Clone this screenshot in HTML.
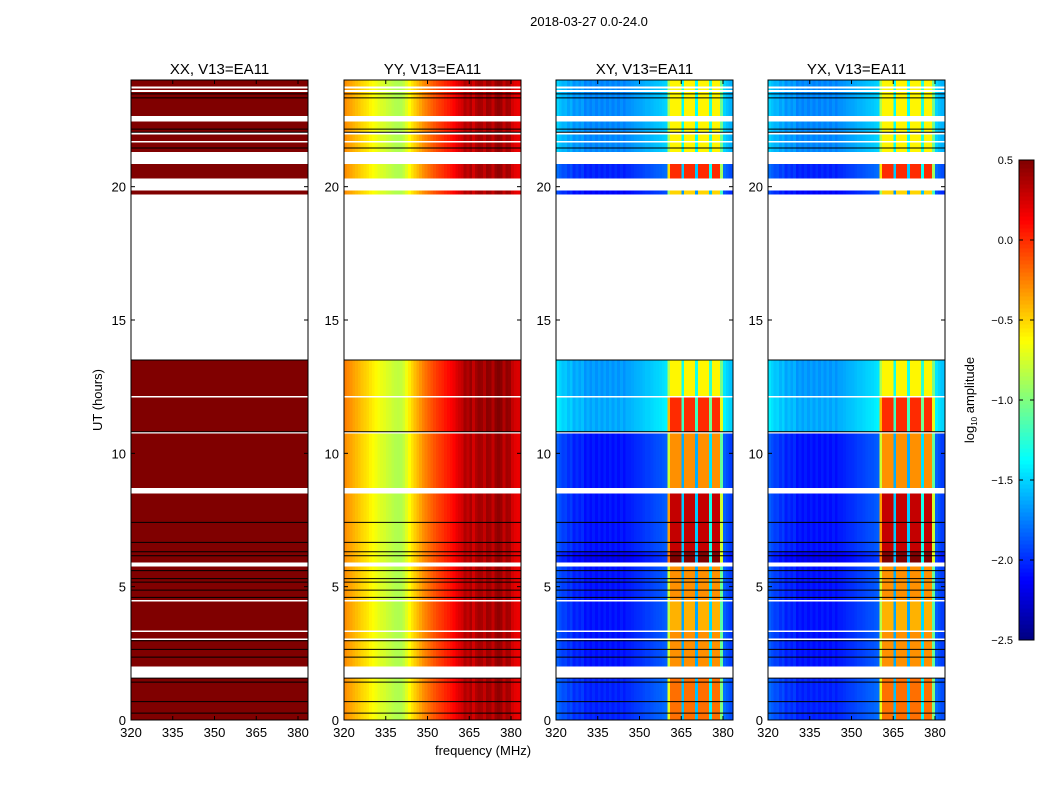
<!DOCTYPE html>
<html><head><meta charset="utf-8"><style>
body{margin:0;background:#fff;}
svg{display:block;font-family:"Liberation Sans","DejaVu Sans",sans-serif;}
</style></head><body>
<svg id="chart" width="1050" height="800" viewBox="0 0 1050 800" xmlns="http://www.w3.org/2000/svg">
<rect width="1050" height="800" fill="#fff"/>
<text x="589" y="26" font-size="13" text-anchor="middle">2018-03-27 0.0-24.0</text>
<text x="102" y="400" font-size="13" text-anchor="middle" transform="rotate(-90 102 400)">UT (hours)</text>
<text x="483" y="755" font-size="13" text-anchor="middle">frequency (MHz)</text>
<g id="panels"></g>
<g id="cbar"></g>
</svg>
<script>
const panelNames = ["XX, V13=EA11","YY, V13=EA11","XY, V13=EA11","YX, V13=EA11"];
const panelKinds = ["xx","yy","xy","yx"];
const freqStart = 320;
const freqStep = 1;
const xTicks = [320,335,350,365,380];
const yTicks = [0,5,10,15,20];
const cbarTicks = [0.5,0.0,-0.5,-1.0,-1.5,-2.0,-2.5];
const cbarLabels = ["0.5","0.0","\u22120.5","\u22121.0","\u22121.5","\u22122.0","\u22122.5"];
// time segments with data (hours)
const segStart = [0,2.0,3.05,3.35,4.5,5.9,6.3,8.7,10.8,12.15,19.7,20.3,21.3,21.72,22.05,22.65,23.62,23.75];
const segEnd   = [1.55,3.0,3.3,4.45,5.75,6.3,8.5,10.75,12.1,13.5,19.85,20.85,21.65,21.95,22.45,23.55,23.68,24];
const segXYbg  = [-2.0,-2.05,-2.05,-2.05,-2.05,-2.15,-2.05,-2.05,-1.6,-1.65,-2.1,-2.0,-1.7,-1.7,-1.7,-1.7,-1.7,-1.7];
const segXYhot = [-0.2,-0.3,-0.3,-0.4,-0.3,0.5,0.3,-0.3,0.0,-0.6,-0.5,0.0,-0.6,-0.6,-0.6,-0.6,-0.6,-0.6];
const segYYoff = [0,0,0,0,0,0,0,0,0.05,0.05,0,0,0,0,0,0,0,0];
// YY spectrum profile (log10 amp) per 1 MHz bin from 320
const yyProfile = [-0.30,-0.33,-0.36,-0.40,-0.43,-0.46,-0.50,-0.53,
 -0.56,-0.60,-0.63,-0.66,-0.70,-0.73,-0.75,-0.78,
 -0.80,-0.83,-0.85,-0.86,-0.85,-0.80,-0.72,-0.62,
 -0.55,-0.48,-0.42,-0.36,-0.30,-0.25,-0.20,-0.16,
 -0.12,-0.08,-0.05,-0.02,0.02,0.05,0.08,0.12,
 0.18,0.22,0.25,0.35,0.30,0.38,0.25,0.35,
 0.40,0.38,0.30,0.42,0.40,0.30,0.42,0.45,
 0.42,0.30,0.40,0.38,0.25,0.20,0.18,0.18];
const xxValue = 0.6;
// XY hot-band weight per bin
const xyBand = [0,0,0,0,0,0,0,0,0,0,0,0,0,0,0,0,0,0,0,0,
 0,0,0,0,0,0,0,0,0,0,0,0,0,0,0,0,0,0,0,0,
 0.7,1,1,1,1,0.15,1,1,1,1,0.15,1,1,1,1,0.25,1,1,1,0.5,
 0,0,0,0];
// XY background shape offset per bin
const xyBgShape = [0.2,0.15,0.1,0.12,0.05,0.1,0.0,0.05,0,0.05,-0.05,0.0,-0.05,0,-0.05,0,-0.05,0,-0.05,0,
 -0.05,0,-0.05,0,-0.05,0,0,0.02,0.04,0.05,0.06,0.08,0.1,0.1,0.12,0.14,0.15,0.16,0.18,0.2,
 0.2,0.2,0.2,0.2,0.2,0.2,0.2,0.2,0.2,0.2,0.2,0.2,0.2,0.2,0.2,0.2,0.2,0.2,0.2,0.2,
 0.2,0.15,0.1,0.1];
const blackLines = [0.26,0.69,1.42,1.57,2.36,2.65,2.97,4.6,4.87,5.17,5.3,5.6,6.16,6.31,6.66,7.41,10.81,13.5,21.45,22.04,22.16,23.33,23.48];

const NS="http://www.w3.org/2000/svg";
const panelX=[131,344,556,768], panelW=177, plotTop=80, plotBottom=720;
const vmin=-2.5, vmax=0.5;
const yScale = h => plotBottom - h*(plotBottom-plotTop)/24;
const xScaleP = (x0,f) => x0 + (f-320)*41.75/15;
function jet(v){
  let t=(v-vmin)/(vmax-vmin); t=Math.max(0,Math.min(1,t));
  const c=a=>Math.round(255*Math.max(0,Math.min(1,1.5-Math.abs(4*t-a))));
  return `rgb(${c(3)},${c(2)},${c(1)})`;
}
function mk(tag,attrs,parent){const e=document.createElementNS(NS,tag);for(const k in attrs)e.setAttribute(k,attrs[k]);parent.appendChild(e);return e;}
const panels=document.getElementById('panels');
panelKinds.forEach((kind,p)=>{
  const x0=panelX[p];
  const g=mk('g',{},panels);
  
  
  const cells=mk('g',{'shape-rendering':'crispEdges'},g);
  
  
  for(let s=0;s<segStart.length;s++){
    const y1=yScale(segEnd[s]), y2=yScale(segStart[s]);
    for(let b=0;b<yyProfile.length;b++){
      const f=freqStart+b*freqStep;
      let v;
      if(kind==='xx') v=xxValue;
      else if(kind==='yy') v=yyProfile[b]+segYYoff[s];
      else v=segXYbg[s]+xyBgShape[b]+(segXYhot[s]-segXYbg[s]-xyBgShape[b])*xyBand[b];
      const xa=xScaleP(x0,f), xb=Math.min(x0+panelW,xScaleP(x0,f+freqStep));
      if(xb<=xa) continue;
      const r=mk('rect',{x:xa.toFixed(2),y:y1.toFixed(2),width:(xb-xa+0.3).toFixed(2),height:(y2-y1).toFixed(2),fill:jet(v)},cells);
      
      
    }
  }
  blackLines.forEach(h=>{
    const l=mk('line',{x1:x0,x2:x0+panelW,y1:yScale(h),y2:yScale(h),stroke:'#000','stroke-width':1},g);
    
    
  });
  const fr=mk('rect',{x:x0,y:plotTop,width:panelW,height:plotBottom-plotTop,fill:'none',stroke:'#000','stroke-width':1},g);
  
  
  const t=mk('text',{x:x0+panelW/2,y:74,'font-size':15,'text-anchor':'middle'},g);
  t.textContent=panelNames[p];
  
  
  xTicks.forEach(f=>{
    const x=xScaleP(x0,f);
    mk('line',{x1:x,x2:x,y1:plotBottom,y2:plotBottom-4,stroke:'#000'},g);
    mk('line',{x1:x,x2:x,y1:plotTop,y2:plotTop+4,stroke:'#000'},g);
    const tl=mk('text',{x:x,y:737,'font-size':13,'text-anchor':'middle'},g);
    tl.textContent=f;
    
    
  });
  yTicks.forEach(h=>{
    const y=yScale(h);
    mk('line',{x1:x0,x2:x0+4,y1:y,y2:y,stroke:'#000'},g);
    mk('line',{x1:x0+panelW,x2:x0+panelW-4,y1:y,y2:y,stroke:'#000'},g);
    const tl=mk('text',{x:x0-5,y:y+5,'font-size':13,'text-anchor':'end'},g);
    tl.textContent=h;
    
    
  });
});
// colorbar
const cb=document.getElementById('cbar');


const cbX=1019,cbW=15,cbTop=160,cbBot=640;
const cbY=v=>cbBot-(v-vmin)/(vmax-vmin)*(cbBot-cbTop);
for(let i=0;i<120;i++){
  const v=vmin+(i+0.5)*(vmax-vmin)/120;
  const ya=cbBot-(i+1)*(cbBot-cbTop)/120;
  mk('rect',{x:cbX,y:ya.toFixed(2),width:cbW,height:((cbBot-cbTop)/120+0.5).toFixed(2),fill:jet(v),'shape-rendering':'crispEdges'},cb);
}
mk('rect',{x:cbX,y:cbTop,width:cbW,height:cbBot-cbTop,fill:'none',stroke:'#000'},cb);
cbarTicks.forEach((v,i)=>{
  const y=cbY(v);
  mk('line',{x1:cbX,x2:cbX+4,y1:y,y2:y,stroke:'#000'},cb);
  mk('line',{x1:cbX+cbW,x2:cbX+cbW-4,y1:y,y2:y,stroke:'#000'},cb);
  const tl=mk('text',{x:1013,y:y+4,'font-size':11,'text-anchor':'end'},cb);
  tl.textContent=cbarLabels[i];
  
  
});
const cl=mk('text',{x:974,y:400,'font-size':13,'text-anchor':'middle',transform:'rotate(-90 974 400)'},cb);
cl.innerHTML='log<tspan font-size="8" dy="3">10</tspan><tspan dy="-3"> amplitude</tspan>';


</script>
</body></html>
